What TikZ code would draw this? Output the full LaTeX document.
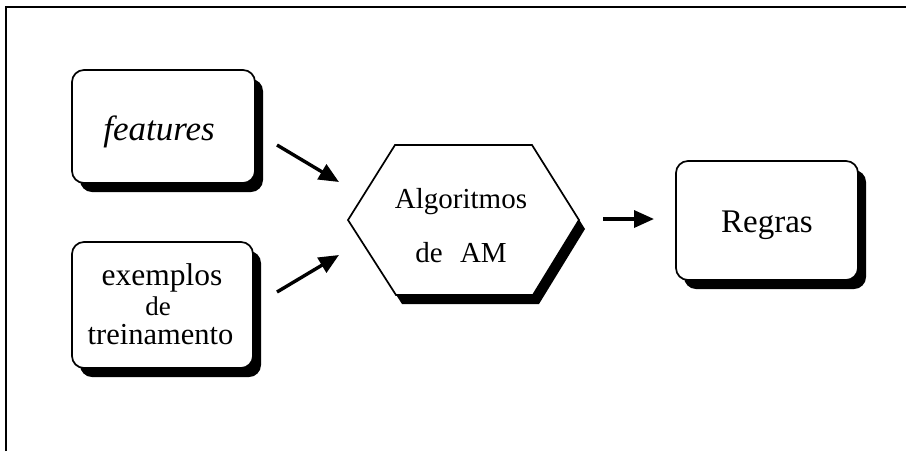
\documentclass[tikz,border=0pt]{standalone}
\usepackage{fontspec}
\setmainfont{Liberation Serif}
\usetikzlibrary{arrows.meta,shadows}
\begin{document}
\begin{tikzpicture}[x=1pt,y=-1pt,
  hardshadow/.style={drop shadow={shadow xshift=8pt, shadow yshift=-9pt, fill=black, opacity=1}},
  box/.style={draw=black, line width=1.7pt, rounded corners=12pt, fill=white,
    inner sep=0pt, hardshadow},
  label/.style={inner sep=0pt, anchor=base},
  flow/.style={line width=3.4pt, -{Triangle[length=20pt,width=17pt]}},
  frame/.style={line width=2.4pt}]
\useasboundingbox (0,0) rectangle (906,451);

% outer frame (top and left edges)
\draw[frame] (6,451) -- (6,7) -- (906,7);

% input boxes
\node[box, minimum width=183pt, minimum height=113pt] (feat) at (163.5,126.5) {};
\node[label] (featT) at (159,140) {\fontsize{35}{40}\selectfont\itshape features};

\node[box, minimum width=181pt, minimum height=126pt] (ex) at (162.5,305) {};
\node[label] (exA) at (162,285) {\fontsize{31.5}{32}\selectfont exemplos};
\node[label] (exB) at (158,315) {\fontsize{27}{27}\selectfont de};
\node[label] (exC) at (160.5,344) {\fontsize{30.5}{31}\selectfont treinamento};

% learning algorithm (hexagon)
\filldraw[line width=1.7pt, fill=white,
  drop shadow={shadow xshift=6pt, shadow yshift=-9pt, fill=black, opacity=1}]
  (348,220) -- (395,145) -- (532,145) -- (579,220) -- (533,295) -- (396,295) -- cycle;
\node[label] (algA) at (461,208) {\fontsize{29}{29}\selectfont Algoritmos};
\node[label] (algB) at (461,262) {\fontsize{29}{29}\selectfont de\hspace{0.35em} AM};

% output box
\node[box, minimum width=182pt, minimum height=119pt] (rules) at (767,220.5) {};
\node[label] (rulesT) at (767,232) {\fontsize{33}{38}\selectfont Regras};

% arrow end points
\coordinate (f1) at (277,145);
\coordinate (f2) at (339,182);
\coordinate (e1) at (277,292);
\coordinate (e2) at (339,255);
\coordinate (r1) at (603,219);
\coordinate (r2) at (654,219);

\draw[flow] (f1) -- (f2);
\draw[flow] (e1) -- (e2);
\draw[flow] (r1) -- (r2);
\end{tikzpicture}
\end{document}
